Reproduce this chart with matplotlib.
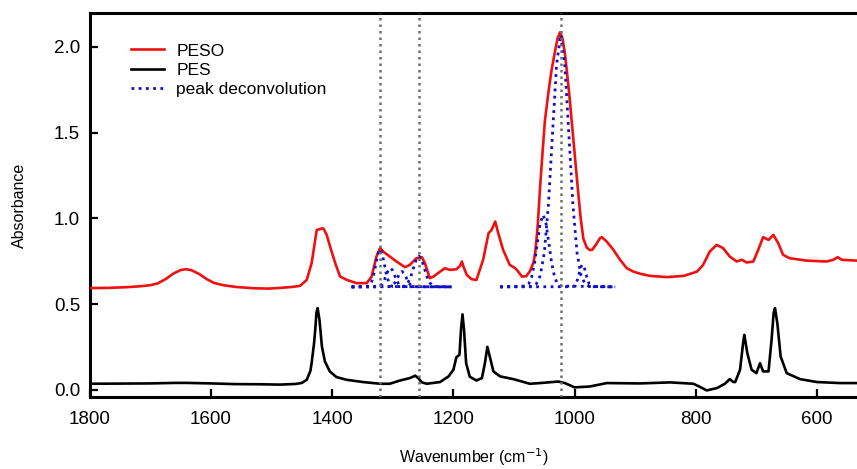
import matplotlib
matplotlib.use("Agg")
import matplotlib.pyplot as plt

plt.rcParams['font.family'] = ['Liberation Sans', 'DejaVu Sans']

# PESO spectrum (wavenumber cm-1, absorbance)
peso_wn = [1800, 1770, 1740, 1715, 1700, 1688, 1675, 1662, 1650, 1642, 1633, 1620, 1607, 1595,
           1580, 1560, 1530, 1505, 1486, 1465, 1453, 1442, 1434, 1428, 1425.5, 1421, 1417, 1414.5,
           1409, 1403.5, 1395, 1387, 1376, 1360, 1343, 1335, 1327, 1321, 1316, 1305, 1294, 1280,
           1272, 1261, 1252, 1247, 1239, 1233, 1222, 1214, 1206, 1195, 1189, 1186, 1183.5, 1178,
           1170, 1162, 1151, 1142, 1137, 1131, 1126, 1118, 1107, 1098, 1093, 1087, 1080, 1074,
           1068, 1065, 1061, 1057, 1053, 1049, 1043, 1038, 1032, 1028, 1024, 1020, 1016, 1013,
           1009, 1005, 1000, 995, 990, 985.5, 980, 975, 971, 965, 958, 955, 947, 936, 925, 914,
           903, 890, 875, 848, 820, 798, 788, 777, 765.5, 755, 744, 732.5, 724, 716, 705, 697,
           689, 680, 672, 664, 656, 645, 617, 584, 573, 566, 559, 534]
peso_abs = [0.593, 0.594, 0.598, 0.604, 0.610, 0.620, 0.645, 0.678, 0.698, 0.703, 0.698, 0.676,
            0.645, 0.623, 0.610, 0.600, 0.592, 0.590, 0.594, 0.600, 0.606, 0.641, 0.738, 0.874,
            0.932, 0.936, 0.941, 0.940, 0.903, 0.835, 0.738, 0.660, 0.641, 0.622, 0.622, 0.660,
            0.777, 0.826, 0.806, 0.777, 0.748, 0.715, 0.728, 0.767, 0.773, 0.738, 0.651, 0.660,
            0.689, 0.709, 0.699, 0.703, 0.723, 0.748, 0.719, 0.670, 0.645, 0.640, 0.758, 0.913,
            0.932, 0.981, 0.913, 0.816, 0.728, 0.709, 0.689, 0.660, 0.662, 0.690, 0.740, 0.800,
            0.950, 1.180, 1.380, 1.570, 1.740, 1.865, 1.980, 2.050, 2.085, 2.050, 1.960, 1.865,
            1.730, 1.573, 1.380, 1.185, 1.000, 0.880, 0.830, 0.815, 0.816, 0.845, 0.885, 0.890,
            0.864, 0.816, 0.758, 0.709, 0.689, 0.675, 0.664, 0.657, 0.664, 0.689, 0.728, 0.806,
            0.845, 0.826, 0.777, 0.748, 0.758, 0.742, 0.748, 0.816, 0.890, 0.874, 0.903, 0.855,
            0.787, 0.767, 0.753, 0.748, 0.758, 0.773, 0.758, 0.753]

# PES spectrum
pes_wn = [1800, 1750, 1700, 1660, 1640, 1600, 1560, 1520, 1486, 1460, 1450, 1442, 1436, 1434,
          1430, 1428, 1426, 1424, 1422.5, 1421, 1417, 1412, 1404, 1393, 1376, 1349, 1321, 1305,
          1288, 1272, 1263, 1258, 1252, 1244, 1222, 1208, 1200, 1195, 1190, 1187.5, 1185, 1182.5,
          1179, 1173, 1162, 1153, 1148, 1144, 1140, 1134, 1123, 1101, 1074, 1057, 1027, 1016,
          1000, 975, 947, 892, 842, 804, 795, 782, 765, 752, 744, 738, 735, 727, 722, 720, 718,
          715, 708, 700, 694, 689, 680, 675, 671.5, 669.3, 665.5, 660, 650, 628, 600, 562, 534]
pes_abs = [0.035, 0.036, 0.037, 0.040, 0.040, 0.037, 0.033, 0.032, 0.030, 0.034, 0.040, 0.058,
           0.110, 0.155, 0.270, 0.350, 0.450, 0.476, 0.440, 0.408, 0.252, 0.165, 0.107, 0.074,
           0.058, 0.045, 0.035, 0.035, 0.054, 0.068, 0.082, 0.068, 0.043, 0.035, 0.045, 0.078,
           0.117, 0.190, 0.204, 0.350, 0.440, 0.350, 0.155, 0.076, 0.054, 0.068, 0.155, 0.250,
           0.194, 0.107, 0.078, 0.062, 0.035, 0.039, 0.048, 0.039, 0.014, 0.019, 0.039, 0.037,
           0.043, 0.035, 0.020, -0.004, 0.010, 0.035, 0.062, 0.045, 0.045, 0.117, 0.270, 0.320,
           0.280, 0.214, 0.117, 0.097, 0.155, 0.107, 0.107, 0.291, 0.450, 0.476, 0.389, 0.194,
           0.097, 0.062, 0.045, 0.039, 0.039]

# peak deconvolution components (wavenumber, absorbance)
deconv_1321_wn = [1368, 1342, 1338.5, 1335, 1331.5, 1328, 1324.5, 1321, 1317.5, 1314, 1310.5, 1307, 1303.5, 1300, 1203]
deconv_1321_abs = [0.600, 0.602, 0.610, 0.630, 0.671, 0.733, 0.794, 0.820, 0.794, 0.733, 0.671, 0.630, 0.610, 0.602, 0.600]
deconv_1304_wn = [1368, 1325, 1321.5, 1318, 1314.5, 1311, 1307.5, 1304, 1300.5, 1297, 1293.5, 1290, 1286.5, 1283, 1203]
deconv_1304_abs = [0.600, 0.601, 0.605, 0.615, 0.636, 0.667, 0.697, 0.710, 0.697, 0.667, 0.636, 0.615, 0.605, 0.601, 0.600]
deconv_1285_wn = [1368, 1306, 1302.5, 1299, 1295.5, 1292, 1288.5, 1285, 1281.5, 1278, 1274.5, 1271, 1267.5, 1264, 1203]
deconv_1285_abs = [0.600, 0.601, 0.604, 0.612, 0.629, 0.655, 0.679, 0.690, 0.679, 0.655, 0.629, 0.612, 0.604, 0.601, 0.600]
deconv_1257_wn = [1368, 1284, 1279.5, 1275, 1270.5, 1266, 1261.5, 1257, 1252.5, 1248, 1243.5, 1239, 1234.5, 1230, 1203]
deconv_1257_abs = [0.600, 0.602, 0.608, 0.624, 0.658, 0.709, 0.759, 0.780, 0.759, 0.709, 0.658, 0.624, 0.608, 0.602, 0.600]
deconv_1052_wn = [1123, 1080.5, 1075.75, 1071, 1066.25, 1061.5, 1056.75, 1052, 1047.25, 1042.5, 1037.75, 1033, 1028.25, 1023.5, 933]
deconv_1052_abs = [0.600, 0.605, 0.618, 0.657, 0.736, 0.855, 0.971, 1.020, 0.971, 0.855, 0.736, 0.657, 0.618, 0.605, 0.600]
deconv_1023_wn = [1123, 1070.25, 1063.5, 1056.75, 1050, 1043.25, 1036.5, 1029.75, 1023, 1016.25, 1009.5,
                  1002.75, 996, 989.25, 982.5, 975.75, 933]
deconv_1023_abs = [0.600, 0.603, 0.616, 0.665, 0.799, 1.077, 1.492, 1.897, 2.070, 1.897, 1.492,
                   1.077, 0.799, 0.665, 0.616, 0.603, 0.600]
deconv_987_wn = [1123, 1003.5, 1000.75, 998, 995.25, 992.5, 989.75, 987, 984.25, 981.5, 978.75, 976, 973.25, 970.5, 933]
deconv_987_abs = [0.600, 0.601, 0.606, 0.618, 0.642, 0.679, 0.715, 0.730, 0.715, 0.679, 0.642, 0.618, 0.606, 0.601, 0.600]

deconv_wn = [deconv_1321_wn, deconv_1304_wn, deconv_1285_wn, deconv_1257_wn,
             deconv_1052_wn, deconv_1023_wn, deconv_987_wn]
deconv_abs = [deconv_1321_abs, deconv_1304_abs, deconv_1285_abs, deconv_1257_abs,
              deconv_1052_abs, deconv_1023_abs, deconv_987_abs]

# marked band positions
marker_wn = [1321, 1257, 1022]

x_ticks = [1800, 1600, 1400, 1200, 1000, 800, 600]
y_ticks = [0.0, 0.5, 1.0, 1.5, 2.0]

fig = plt.figure(figsize=(8.57, 4.69), dpi=100)
ax = fig.add_axes([0.1048, 0.1525, 0.8952, 0.819])

ax.plot(peso_wn, peso_abs, color='#f01010', lw=1.9, label='PESO', zorder=3)
ax.plot(pes_wn, pes_abs, color='black', lw=1.9, label='PES', zorder=3)
for i, (w, a) in enumerate(zip(deconv_wn, deconv_abs)):
    ax.plot(w, a, color='#1010c8', lw=2.0, ls=(0, (1, 1.6)),
            label='peak deconvolution' if i == 0 else None, zorder=4)
for w in marker_wn:
    ax.axvline(w, color='#6e6e6e', lw=1.8, ls=(0, (1, 1.6)), zorder=5)

ax.set_xlim(1800, 534)
ax.set_ylim(-0.045, 2.195)
ax.set_xticks(x_ticks)
ax.set_yticks(y_ticks)
ax.set_yticklabels(['%.1f' % v for v in y_ticks])

for side in ['left', 'bottom', 'top']:
    ax.spines[side].set_linewidth(2.2)
ax.spines['right'].set_visible(False)
ax.tick_params(direction='in', length=6, width=1.6, labelsize=13.5)
ax.tick_params(axis='x', pad=10)
ax.tick_params(axis='y', pad=7)

ax.set_xlabel('Wavenumber (cm$^{-1}$)', fontsize=11.5, labelpad=13)
ax.set_ylabel('Absorbance', fontsize=11.5, labelpad=19)

ax.legend(loc='upper left', bbox_to_anchor=(0.045, 0.94), frameon=False, fontsize=12.5,
          handlelength=1.9, handletextpad=0.7, labelspacing=0.25, borderaxespad=0.0)

fig.savefig('out.png', dpi=100)
